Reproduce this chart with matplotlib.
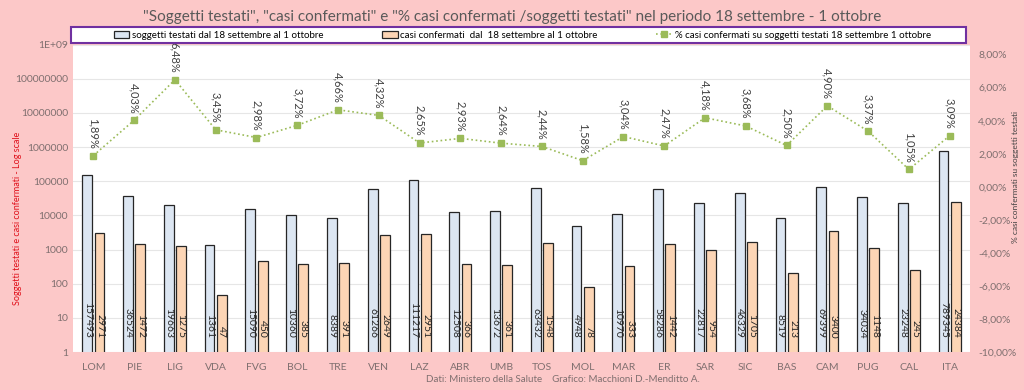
import matplotlib
matplotlib.use('Agg')
import matplotlib.pyplot as plt
from matplotlib.ticker import FixedLocator, FuncFormatter, NullLocator
from matplotlib.patches import Rectangle
import numpy as np

plt.rcParams['font.family'] = ['Lato', 'DejaVu Sans']

regioni = ['LOM', 'PIE', 'LIG', 'VDA', 'FVG', 'BOL', 'TRE', 'VEN', 'LAZ', 'ABR', 'UMB',
           'TOS', 'MOL', 'MAR', 'ER', 'SAR', 'SIC', 'BAS', 'CAM', 'PUG', 'CAL', 'ITA']
testati = [157493, 36524, 19663, 1361, 15090, 10360, 8389, 61266, 111217, 12508, 13672,
           63432, 4948, 10970, 58286, 22817, 46329, 8519, 69399, 34034, 23248, 789345]
confermati = [2971, 1472, 1275, 47, 450, 385, 391, 2649, 2951, 366, 361,
              1548, 78, 333, 1442, 954, 1705, 213, 3400, 1148, 245, 24384]
perc = [1.89, 4.03, 6.48, 3.45, 2.98, 3.72, 4.66, 4.32, 2.65, 2.93, 2.64,
        2.44, 1.58, 3.04, 2.47, 4.18, 3.68, 2.50, 4.90, 3.37, 1.05, 3.09]

pink = '#fcc8c8'
fig = plt.figure(figsize=(10.24, 3.9), dpi=100, facecolor=pink)
ax = fig.add_axes([0.0713, 0.0974, 0.876, 0.788])
ax.set_facecolor('white')

x = np.arange(len(regioni))
w = 0.24
b1 = ax.bar(x - 0.15, testati, w, color='#dce6f2', edgecolor='#262626', linewidth=0.9,
            label='soggetti testati dal 18 settembre al 1 ottobre', zorder=2)
b2 = ax.bar(x + 0.15, confermati, w, color='#fcd5b5', edgecolor='#262626', linewidth=0.9,
            label='casi confermati  dal  18 settembre al 1 ottobre', zorder=2)
ax.set_yscale('log')
ax.set_ylim(1, 1e9)
ax.set_xlim(-0.5, len(regioni) - 0.5)
ax.yaxis.set_major_locator(FixedLocator([10 ** i for i in range(10)]))
ax.yaxis.set_minor_locator(NullLocator())
ax.yaxis.set_major_formatter(FuncFormatter(lambda v, p: '1E+09' if v >= 1e9 else '%d' % round(v)))
ax.grid(axis='y', color='#e6e6e6', linewidth=0.8, zorder=0)
ax.set_axisbelow(True)
for s in ax.spines.values():
    s.set_visible(False)
ax.tick_params(axis='both', length=0, labelsize=7.5, labelcolor='#7f6f6f')
ax.tick_params(axis='x', pad=8)
ax.set_xticks(x)
ax.set_xticklabels(regioni)

# value labels at the base of each bar
for xi, t, c in zip(x, testati, confermati):
    ax.annotate(str(t), (xi - 0.15, 1), xytext=(0, 10), textcoords='offset points',
                rotation=270, ha='center', va='bottom', fontsize=7.5, color='#262626', zorder=3)
    ax.annotate(str(c), (xi + 0.15, 1), xytext=(0, 10), textcoords='offset points',
                rotation=270, ha='center', va='bottom', fontsize=7.5, color='#262626', zorder=3)

ax2 = ax.twinx()
ln, = ax2.plot(x, perc, linestyle=':', color='#9bbb59', linewidth=1.2, marker='s',
               markersize=5, markerfacecolor='#9bbb59', markeredgecolor='#9bbb59',
               label='% casi confermati su soggetti testati 18 settembre 1 ottobre')
ax2.set_ylim(-10, 8.6)
ax2.set_yticks(np.arange(-10, 9, 2))
ax2.yaxis.set_major_formatter(FuncFormatter(lambda v, p: ('%.2f%%' % v).replace('.', ',')))
for s in ax2.spines.values():
    s.set_visible(False)
ax2.tick_params(axis='y', length=0, labelsize=7.5, labelcolor='#7f6f6f', pad=6)
for xi, p in zip(x, perc):
    ax2.annotate(('%.2f%%' % p).replace('.', ','), (xi, p), xytext=(0, 5),
                 textcoords='offset points', rotation=270, ha='center', va='bottom',
                 fontsize=8, color='#404040')

# axis titles
fig.text(0.017, 0.44, 'Soggetti testati e casi confermati - Log scale', rotation=90,
         ha='center', va='center', fontsize=6.5, color='#e0101a')
fig.text(0.992, 0.545, '% casi confermati su soggetti testati', rotation=90,
         ha='center', va='center', fontsize=6, color='#404040')

fig.text(0.5, 0.956, '"Soggetti testati", "casi confermati" e "% casi confermati /soggetti testati" nel periodo 18 settembre - 1 ottobre',
         ha='center', va='center', fontsize=11, color='#595959')

# legend box
fig.patches.append(Rectangle((0.069, 0.890), 0.874, 0.041, transform=fig.transFigure,
                             facecolor='white', edgecolor='#7030a0', linewidth=1.5, zorder=1))
leg = fig.legend(handles=[b1, b2, ln], loc='center', bbox_to_anchor=(0.51, 0.91),
                 ncol=3, fontsize=7, frameon=False, columnspacing=6, handlelength=1.6,
                 handletextpad=0.3, borderpad=0.25)
leg.set_zorder(2)

fig.text(0.55, 0.026, 'Dati: Ministero della Salute    Grafico: Macchioni D.-Menditto A.',
         ha='center', va='center', fontsize=7, color='#7f6f6f')

fig.savefig('out.png', dpi=100, facecolor=pink)
